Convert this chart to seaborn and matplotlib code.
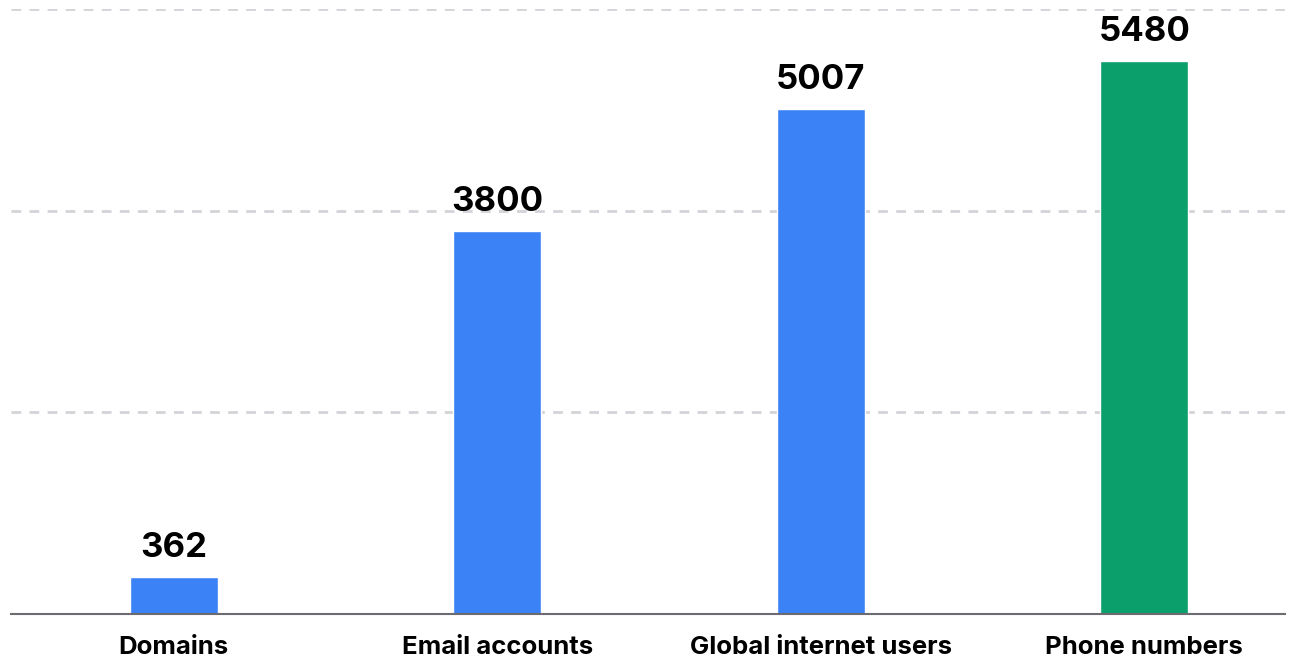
import numpy as np
import pandas as pd
import seaborn as sns
import matplotlib.pyplot as plt

categories = ["Domains", "Email accounts", "Global internet users", "Phone numbers"]
values = [362, 3800, 5007, 5480]
bar_colors = ["#3b82f6", "#3b82f6", "#3b82f6", "#0a9f6b"]

df = pd.DataFrame({"category": categories, "value": values})

sns.set_style("white")
plt.rcParams["font.family"] = ["Inter", "DejaVu Sans"]

fig = plt.figure(figsize=(12.93, 6.6), dpi=100)
ax = fig.add_axes([11 / 1293, 1 - 614 / 660, (1285 - 11) / 1293, (614 - 9) / 660])

sns.barplot(data=df, x="category", y="value", hue="category", palette=bar_colors,
            width=0.272, legend=False, ax=ax, saturation=1)

ax.set_ylim(0, 6000)
ax.set_xlim(-0.5035, 3.435)
ax.set_yticks([2000, 4000, 6000])
ax.yaxis.grid(True, linestyle=(0, (3.5, 3)), color="#d4d4d8", linewidth=2)
ax.set_axisbelow(True)
ax.tick_params(axis="y", left=False, labelleft=False)
ax.tick_params(axis="x", length=0, pad=16, labelsize=18.5, labelcolor="#000000")
for lbl in ax.get_xticklabels():
    lbl.set_fontweight("bold")
ax.set_xlabel("")
ax.set_ylabel("")
for s in ["top", "right", "left"]:
    ax.spines[s].set_visible(False)
ax.spines["bottom"].set_color("#6b6b70")
ax.spines["bottom"].set_linewidth(1.5)

for i, v in enumerate(values):
    ax.text(i, v + 130, str(v), ha="center", va="bottom", fontsize=25,
            fontweight="bold", color="#000000")

plt.savefig("out.png", dpi=100)
